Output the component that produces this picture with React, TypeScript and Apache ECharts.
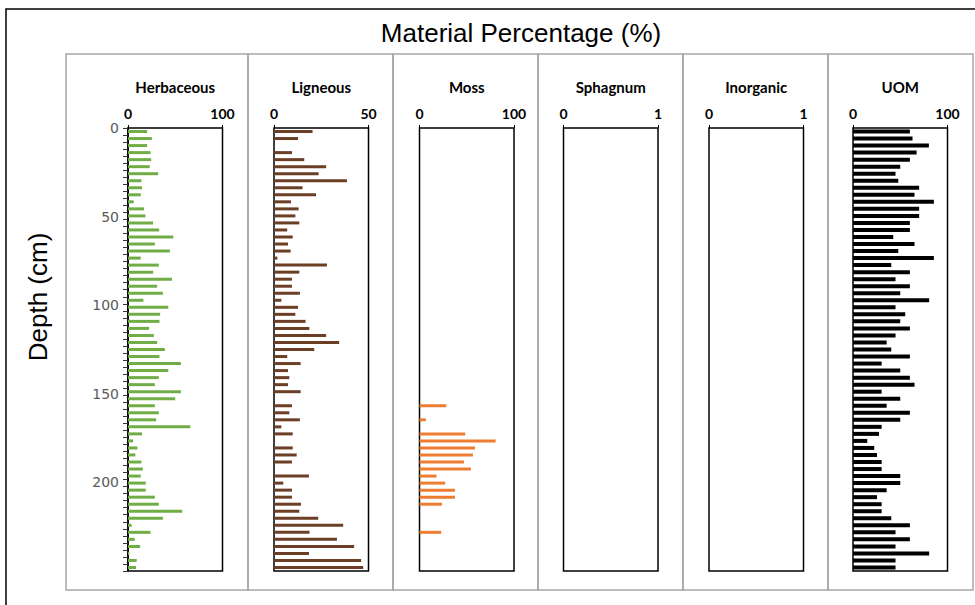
import React, { useEffect, useRef } from "react";
import * as echarts from "echarts";

// Sample depths (cm), one core slice per category, top to bottom
const depths = [
  "2", "6", "10", "14", "18", "22", "26", "30", "34", "38", "42", "46", "50",
  "54", "58", "62", "66", "70", "74", "78", "82", "86", "90", "94", "98", "102",
  "106", "110", "114", "118", "122", "126", "130", "134", "138", "142", "146",
  "150", "154", "158", "162", "166", "170", "174", "178", "182", "186", "190",
  "194", "198", "202", "206", "210", "214", "218", "222", "226", "230", "234",
  "238", "242", "246", "250",
];

const herbaceous = [
  20.2, 25.2, 20.2, 23.8, 24.5, 23, 31.9, 14.2, 14.9, 13.5, 6, 17, 18.4, 26.6,
  33, 47.9, 28.4, 44.3, 13.5, 32.6, 26.6, 46.5, 30.9, 36.9, 16.3, 42.6, 34,
  33.3, 22.3, 27.3, 30.9, 39, 33.3, 56, 42.6, 32.6, 28.4, 56, 50, 28.4, 32.6,
  29.8, 66, 14.9, 5.3, 9.9, 7.8, 14.2, 15.6, 13.5, 18.8, 18.8, 28.4, 32.6,
  57.4, 36.9, 3.9, 23.8, 7.1, 12.8, 1.4, 9.2, 8.5,
];

const ligneous = [
  20.4, 12.7, 0, 9.5, 16, 27.6, 23.6, 38.6, 15.1, 22.2, 9, 13, 11.3, 13.4, 7,
  9.9, 7.4, 8.8, 1.8, 28, 13.4, 9.5, 9.5, 13.7, 3.9, 12.7, 11.3, 16.7, 18.7,
  27.6, 34.5, 21.3, 7, 14.1, 7.4, 8.1, 7.4, 14.1, 0, 9.5, 8.1, 13.7, 3.9, 9.9,
  0, 9.9, 12, 9.5, 0, 18.5, 4.9, 9.5, 9.5, 14.3, 13.4, 23.4, 36.6, 18.8, 33.3,
  42.4, 18.5, 46.1, 47.2,
];

const moss = [
  0, 0, 0, 0, 0, 0, 0, 0, 0, 0, 0, 0, 0, 0, 0, 0, 0, 0, 0, 0, 0, 0, 0, 0, 0,
  0, 0, 0, 0, 0, 0, 0, 0, 0, 0, 0, 0, 0, 0, 28.3, 0, 6.7, 0, 48.4, 80.6, 58.7,
  56.5, 47, 54.4, 18, 27.2, 37.5, 37.5, 23.7, 0, 0, 0, 23, 0, 0, 0, 0, 0,
];

const sphagnum = depths.map(() => 0);
const inorganic = depths.map(() => 0);

const uom = [
  60.2, 63, 80.3, 67.3, 60.2, 50, 45, 47.9, 70, 65.1, 85.6, 70, 70, 60.2, 60.2,
  42.6, 65.1, 47.9, 85.6, 40.5, 60.2, 45, 60.2, 50, 80.6, 45, 55.3, 50, 60.2,
  45, 35.6, 40.5, 60.2, 30.3, 50, 60.2, 65.1, 30.3, 50, 35.6, 60.2, 50, 30.3,
  27.5, 15.1, 22.5, 25.4, 30.3, 30.3, 50, 50, 35.6, 25.4, 30.3, 30.3, 40.5,
  60.2, 45, 60.2, 45, 80.6, 45, 45,
];

const panelNames = ["Herbaceous", "Ligneous", "Moss", "Sphagnum", "Inorganic", "UOM"];
const panelMax = [100, 50, 100, 1, 1, 100];
const panelData = [herbaceous, ligneous, moss, sphagnum, inorganic, uom];
const panelColors = ["#70ad47", "#6b3e26", "#ed7d31", "#4472c4", "#a5a5a5", "#000000"];

const depthTicks = [0, 50, 100, 150, 200];

const plotLeft = [128, 274, 419.5, 563.5, 709, 853];
const plotWidth = 94.5;
const plotTop = 128;
const plotHeight = 443;
const panelEdges = [66, 248, 393, 538, 683, 828, 973];

export default function App() {
  const ref = useRef<HTMLDivElement>(null);

  useEffect(() => {
    if (!ref.current) return;
    const chart = echarts.init(ref.current, undefined, { renderer: "svg" });

    const grids = plotLeft.map((left) => ({
      left,
      top: plotTop,
      width: plotWidth,
      height: plotHeight,
      show: true,
      borderColor: "#000",
      borderWidth: 1.5,
      backgroundColor: "transparent",
    }));

    const xAxes = panelMax.map((max, i) => ({
      type: "value",
      gridIndex: i,
      position: "top",
      min: 0,
      max,
      interval: max,
      axisLine: { show: false },
      axisTick: { show: true, length: 3, lineStyle: { color: "#000" } },
      splitLine: { show: false },
      axisLabel: {
        margin: 8,
        color: "#000",
        fontWeight: "bold",
        fontSize: 14,
        fontFamily: "Lato",
      },
    }));

    const yAxes: any[] = panelMax.map((_, i) => ({
      type: "category",
      gridIndex: i,
      data: depths,
      inverse: true,
      position: "left",
      axisLine: { show: i === 0, lineStyle: { color: "#000", width: 1.5 } },
      axisTick: {
        show: i === 0,
        interval: 0,
        length: 5,
        lineStyle: { color: "#333" },
      },
      axisLabel: { show: false },
      splitLine: { show: false },
    }));

    // Depth scale for the first panel
    yAxes.push({
      type: "value",
      gridIndex: 0,
      position: "left",
      min: 0,
      max: 250,
      interval: 50,
      inverse: true,
      axisLine: { show: false },
      axisTick: { show: false },
      splitLine: { show: false },
      axisLabel: {
        margin: 9,
        color: "#595959",
        fontSize: 14,
        fontFamily: "DejaVu Sans",
        formatter: (v: number) => (depthTicks.includes(v) ? String(v) : ""),
      },
    });

    const series = panelData.map((data, i) => ({
      type: "bar",
      xAxisIndex: i,
      yAxisIndex: i,
      data,
      barWidth: i === 5 ? 4 : 3,
      itemStyle: { color: panelColors[i] },
      silent: true,
    }));

    const graphics: any[] = [];
    // Panel frames and their headings
    for (let i = 0; i < 6; i++) {
      graphics.push({
        type: "rect",
        shape: {
          x: panelEdges[i],
          y: 54,
          width: panelEdges[i + 1] - panelEdges[i],
          height: 536,
        },
        style: { fill: "none", stroke: "#a6a6a6", lineWidth: 1.5 },
        silent: true,
      });
      graphics.push({
        type: "text",
        x: plotLeft[i] + plotWidth / 2,
        y: 87,
        style: {
          text: panelNames[i],
          font: "bold 15px Lato",
          fill: "#000",
          textAlign: "center",
          textVerticalAlign: "middle",
        },
        silent: true,
      });
    }
    // Outer frame
    graphics.push({
      type: "polyline",
      shape: { points: [[6, 605], [6, 9], [975, 9]] },
      style: { stroke: "#000", lineWidth: 1.5, fill: "none" },
      silent: true,
    });
    graphics.push({
      type: "text",
      x: 521,
      y: 33,
      style: {
        text: "Material Percentage (%)",
        font: "26px 'Liberation Sans'",
        fill: "#000",
        textAlign: "center",
        textVerticalAlign: "middle",
      },
      silent: true,
    });
    graphics.push({
      type: "text",
      x: 38,
      y: 297,
      rotation: Math.PI / 2,
      style: {
        text: "Depth (cm)",
        font: "26px 'Liberation Sans'",
        fill: "#000",
        textAlign: "center",
        textVerticalAlign: "middle",
      },
      silent: true,
    });

    chart.setOption({
      animation: false,
      backgroundColor: "#fff",
      grid: grids,
      xAxis: xAxes,
      yAxis: yAxes,
      series,
      graphic: graphics,
    });

    return () => chart.dispose();
  }, []);

  return (
    <div
      ref={ref}
      style={{ position: "fixed", left: 0, top: 0, width: 975, height: 605 }}
    />
  );
}
